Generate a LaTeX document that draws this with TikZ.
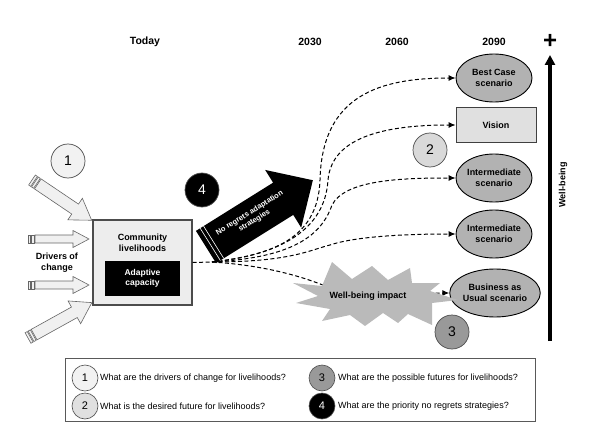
\documentclass[tikz,border=0pt]{standalone}
\usepackage{fontspec}
\setmainfont{Liberation Sans}
\usetikzlibrary{shapes.geometric,arrows.meta}

\tikzset{
  scen/.style={ellipse, draw=black, line width=0.9pt, fill=black!30, minimum width=76pt, minimum height=48pt, inner sep=0pt, align=center, font=\bfseries\fontsize{9}{10.5}\selectfont},
  cnum/.style={circle, draw=black!70, line width=0.7pt, minimum size=34pt, inner sep=0pt, font=\fontsize{14}{14}\selectfont},
  lnum/.style={circle, draw=black!70, line width=0.6pt, minimum size=26pt, inner sep=0pt, font=\fontsize{11}{11}\selectfont},
  ltext/.style={anchor=west, inner sep=0pt, font=\fontsize{9}{10}\selectfont},
  yearlabel/.style={font=\bfseries\fontsize{10.5}{12}\selectfont},
  boldlabel/.style={align=center, font=\bfseries\fontsize{9}{11}\selectfont},
  flow/.style={draw, line width=1pt, dash pattern=on 4pt off 2.5pt, -{Latex[length=7pt,width=6pt]}},
  driver/.style={fill=black!6, draw=black!60, line width=0.6pt, line join=miter},
}

% drivers of change arrow: shaft half width, head half width, head length, length
\newcommand{\driverarrow}[4]{%
  \filldraw[driver] (0,-#1) rectangle (2.5,#1);
  \filldraw[driver] (3.5,-#1) rectangle (6,#1);
  \filldraw[driver] (7,-#1) -- ({#4-#3},-#1) -- ({#4-#3},-#2) -- (#4,0)
    -- ({#4-#3},#2) -- ({#4-#3},#1) -- (7,#1) -- cycle;
}

\begin{document}
\begin{tikzpicture}[x=1pt, y=-1pt]
  \useasboundingbox (0,0) rectangle (594,425);

  % -- Time axis --
  \node[yearlabel] (today) at (145,42) {Today};
  \node[yearlabel] (y2030) at (310,42) {2030};
  \node[yearlabel] (y2060) at (397,42) {2060};
  \node[yearlabel] (y2090) at (494,42) {2090};

  % -- Well-being axis --
  \node[font=\bfseries\fontsize{24}{24}\selectfont] (plus) at (550,41) {+};
  \coordinate (wbtop) at (550,55);
  \coordinate (wbbot) at (550,341);
  \draw[line width=3.5pt, -{Triangle[length=10pt,width=10pt]}] (wbbot) -- (wbtop);
  \node[boldlabel, rotate=90] (wellbeing) at (563,185) {Well-being};

  % -- Drivers of change --
  \begin{scope}[shift={(32,180)}, rotate=-34]
    \driverarrow{6}{13}{20}{72}
  \end{scope}
  \begin{scope}[shift={(28,239)}]
    \driverarrow{4}{8.5}{16}{61}
  \end{scope}
  \begin{scope}[shift={(28,285)}]
    \driverarrow{4}{8.5}{16}{61}
  \end{scope}
  \begin{scope}[shift={(28,338)}, rotate=29]
    \driverarrow{6}{13}{20}{73}
  \end{scope}
  \node[boldlabel] (drivers) at (57,263) {Drivers of\\change};
  \node[cnum, fill=black!5] (q1) at (68,161) {1};

  % -- Community box --
  \node[draw=black!70, fill=black!7, line width=1.2pt, minimum width=99pt, minimum height=85pt] (livelihoods) at (142.5,262.5) {};
  \node[boldlabel] (community) at (142.5,243) {Community\\livelihoods};
  \node[fill=black, minimum width=75pt, minimum height=35pt, text=white, boldlabel, font=\bfseries\fontsize{8.5}{10}\selectfont] (adaptive) at (142.5,278) {Adaptive\\capacity};

  % -- Scenarios --
  \node[scen] (best) at (494,78) {Best Case\\scenario};
  \node[draw=black!75, fill=black!12, line width=0.9pt, minimum width=80pt, minimum height=35pt, font=\bfseries\fontsize{9}{10.5}\selectfont] (vision) at (496,125) {Vision};
  \node[scen] (inter1) at (494,178) {Intermediate\\scenario};
  \node[scen] (inter2) at (494,234) {Intermediate\\scenario};
  \node[scen] (bau) at (495,293) {Business as\\Usual scenario};

  % -- Pathways --
  \coordinate (fan) at (212,262);
  \draw[line width=1pt, dash pattern=on 4pt off 2.5pt] (livelihoods.east) -- (fan);
  \path[flow] (fan) .. controls (270,255) and (318,240) .. (320,180) .. controls (322,95) and (380,78) .. (best.west);
  \path[flow] (fan) .. controls (280,255) and (325,230) .. (328,180) .. controls (332,135) and (390,125) .. (vision.west);
  \path[flow] (fan) .. controls (285,258) and (320,240) .. (332,205) .. controls (345,180) and (400,178) .. (inter1.west);
  \path[flow] (fan) .. controls (290,262) and (310,250) .. (330,245) .. controls (360,235) and (420,234) .. (inter2.west);
  \path[flow] (fan) .. controls (260,265) and (300,275) .. (330,288) .. controls (360,296) and (420,293) .. (bau.west);

  % -- No regrets arrow --
  \begin{scope}[shift={(206,247)}, rotate=32]
    \fill[black] (0,-19) -- (91,-19) -- (91,-34) -- (126,0) -- (91,34) -- (91,19) -- (0,19) -- cycle;
    \draw[white, line width=0.6pt] (5,-19) -- (5,19) (9,-19) -- (9,19);
  \end{scope}
  \node[rotate=32, text=white, align=center, font=\bfseries\fontsize{7.5}{9}\selectfont] (noregrets) at (252,217) {No regrets adaptation\\strategies};
  \node[cnum, fill=black, text=white] (q4) at (202,190) {4};

  % -- Well-being impact --
  \fill[black!27] (293,283) -- (322,286) -- (332,262) -- (352,279) -- (372,266) -- (388,280)
    -- (410,268) -- (412,283) -- (440,283) -- (430,291) -- (458,300) -- (432,303)
    -- (432,325) -- (408,314) -- (398,323) -- (383,313) -- (365,326) -- (350,315)
    -- (322,321) -- (330,309) -- (296,303) -- (318,296) -- cycle;
  \node[boldlabel] (impact) at (368,296) {Well-being impact};

  \node[cnum, fill=black!15] (q2) at (430,150) {2};
  \node[cnum, fill=black!40] (q3) at (452,332) {3};

  % -- Legend --
  \node[draw=black!65, line width=0.8pt, minimum width=470pt, minimum height=63pt] (legend) at (300,389.5) {};
  \node[lnum, fill=black!5] (l1) at (85,378) {1};
  \node[lnum, fill=black!12] (l2) at (85,406) {2};
  \node[lnum, fill=black!40] (l3) at (322,378) {3};
  \node[lnum, fill=black, text=white] (l4) at (322,406) {4};
  \node[ltext] (t1) at (100,378) {What are the drivers of change for livelihoods?};
  \node[ltext] (t2) at (100,406) {What is the desired future for livelihoods?};
  \node[ltext] (t3) at (338,378) {What are the possible futures for livelihoods?};
  \node[ltext] (t4) at (338,406) {What are the priority no regrets strategies?};

\end{tikzpicture}
\end{document}
